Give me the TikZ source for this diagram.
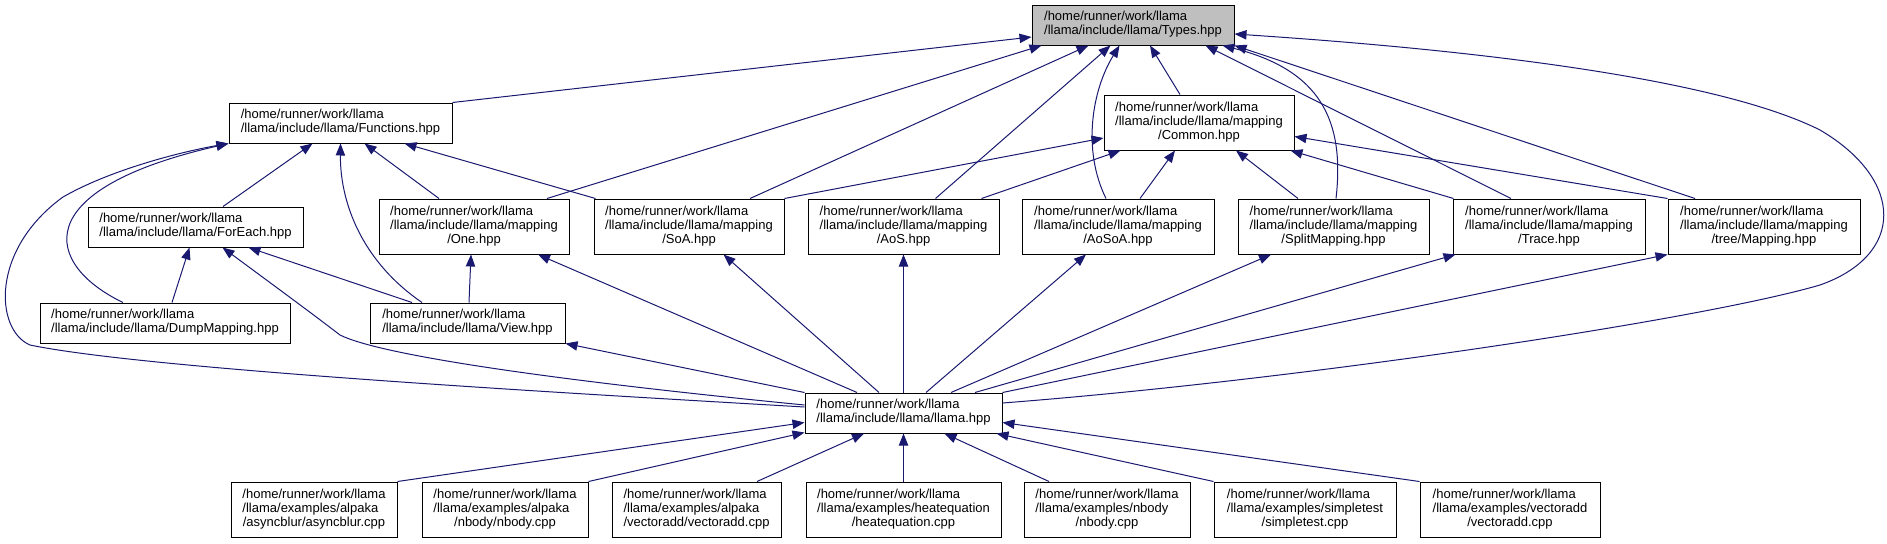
\documentclass[tikz,border=0pt]{standalone}
\usepackage{fontspec}
\setmainfont{Liberation Sans}
\usetikzlibrary{calc,arrows.meta}
\definecolor{edgeblue}{HTML}{191970}
\definecolor{typesgray}{HTML}{BFBFBF}
\newcommand{\twol}[2]{\begin{tabular}{@{}l@{}}#1\\#2\end{tabular}}
\newcommand{\threel}[3]{\begin{tabular}{@{}l@{}}#1\\#2\\\multicolumn{1}{@{}c@{}}{#3}\end{tabular}}
\begin{document}
\begin{tikzpicture}[x=0.75pt,y=-0.75pt,
  box/.style={draw=black, line width=0.75pt, fill=white, inner sep=0pt,
    minimum height=30pt, font={\fontsize{9.75}{10.5}\selectfont}},
  tall/.style={minimum height=41.25pt},
  wd/.style={minimum width=#1*0.75pt},
  edge/.style={draw=edgeblue, line width=0.75pt, -{Triangle[length=9pt,width=7pt]}}]
\useasboundingbox (0,0) rectangle (1887,543);

% nodes
\node[box, wd=202, fill=typesgray] (Types) at (1133,25) {\twol{/home/runner/work/llama}{/llama/include/llama/Types.hpp}};
\node[box, wd=223] (Functions) at (340.5,123) {\twol{/home/runner/work/llama}{/llama/include/llama/Functions.hpp}};
\node[box, tall, wd=190] (Common) at (1199,122.5) {\threel{/home/runner/work/llama}{/llama/include/llama/mapping}{/Common.hpp}};
\node[box, wd=215] (ForEach) at (195.5,227) {\twol{/home/runner/work/llama}{/llama/include/llama/ForEach.hpp}};
\node[box, tall, wd=190] (One) at (474,226.5) {\threel{/home/runner/work/llama}{/llama/include/llama/mapping}{/One.hpp}};
\node[box, tall, wd=190] (SoA) at (689,226.5) {\threel{/home/runner/work/llama}{/llama/include/llama/mapping}{/SoA.hpp}};
\node[box, tall, wd=191] (AoS) at (903.5,226.5) {\threel{/home/runner/work/llama}{/llama/include/llama/mapping}{/AoS.hpp}};
\node[box, tall, wd=192] (AoSoA) at (1118,226.5) {\threel{/home/runner/work/llama}{/llama/include/llama/mapping}{/AoSoA.hpp}};
\node[box, tall, wd=191] (Split) at (1333.5,226.5) {\threel{/home/runner/work/llama}{/llama/include/llama/mapping}{/SplitMapping.hpp}};
\node[box, tall, wd=192] (Trace) at (1549,226.5) {\threel{/home/runner/work/llama}{/llama/include/llama/mapping}{/Trace.hpp}};
\node[box, tall, wd=192] (Tree) at (1764,226.5) {\threel{/home/runner/work/llama}{/llama/include/llama/mapping}{/tree/Mapping.hpp}};
\node[box, wd=250] (Dump) at (165,323) {\twol{/home/runner/work/llama}{/llama/include/llama/DumpMapping.hpp}};
\node[box, wd=195] (View) at (467.5,323) {\twol{/home/runner/work/llama}{/llama/include/llama/View.hpp}};
\node[box, wd=197] (Llama) at (903.5,413) {\twol{/home/runner/work/llama}{/llama/include/llama/llama.hpp}};
\node[box, tall, wd=166] (Async) at (314,509.5) {\threel{/home/runner/work/llama}{/llama/examples/alpaka}{/asyncblur/asyncblur.cpp}};
\node[box, tall, wd=166] (NbodyA) at (505,509.5) {\threel{/home/runner/work/llama}{/llama/examples/alpaka}{/nbody/nbody.cpp}};
\node[box, tall, wd=169] (VecA) at (696.5,509.5) {\threel{/home/runner/work/llama}{/llama/examples/alpaka}{/vectoradd/vectoradd.cpp}};
\node[box, tall, wd=195] (Heat) at (903.5,509.5) {\threel{/home/runner/work/llama}{/llama/examples/heatequation}{/heatequation.cpp}};
\node[box, tall, wd=166] (Nbody) at (1107,509.5) {\threel{/home/runner/work/llama}{/llama/examples/nbody}{/nbody.cpp}};
\node[box, tall, wd=182] (Simple) at (1305,509.5) {\threel{/home/runner/work/llama}{/llama/examples/simpletest}{/simpletest.cpp}};
\node[box, tall, wd=180] (Vec) at (1510,509.5) {\threel{/home/runner/work/llama}{/llama/examples/vectoradd}{/vectoradd.cpp}};

% edges to Types
\draw[edge] (Functions.north east) -- ($(Types.west)+(0,12)$);
\draw[edge] ($(One.north)+(73,0)$) -- ($(Types.south west)+(10,0)$);
\draw[edge] ($(SoA.north)+(61,0)$) -- ($(Types.south west)+(57,0)$);
\draw[edge] ($(AoS.north)+(32,0)$) -- ($(Types.south west)+(79,0)$);
\draw[edge] ($(AoSoA.north)+(-12,0)$) .. controls (1082,150) and (1092,90) .. ($(Types.south west)+(88,0)$);
\draw[edge] ($(Common.north)+(-19,0)$) -- ($(Types.south)+(17,0)$);
\draw[edge] ($(Split.north)+(2.5,0)$) .. controls (1345,120) and (1320,70) .. ($(Types.south east)+(-12,0)$);
\draw[edge] ($(Trace.north)+(-38,0)$) -- ($(Types.south east)+(-29,0)$);
\draw[edge] ($(Tree.north)+(-69,0)$) -- (Types.south east);
\draw[edge] ($(Llama.east)+(0,-10)$) .. controls (1300,380) and (1700,320) .. (1820,285)
  .. controls (1905,255) and (1905,180) .. (1820,130)
  .. controls (1700,70) and (1400,45) .. ($(Types.east)+(0,9)$);

% edges to Functions
\draw[edge] ($(ForEach.north)+(27.5,0)$) -- ($(Functions.south)+(-28,0)$);
\draw[edge] ($(Dump.north)+(-42,0)$) .. controls (45,265) and (25,190) .. (Functions.south west);
\draw[edge] ($(View.north)+(-45.5,0)$) .. controls (360,260) and (340,200) .. (Functions.south);
\draw[edge] ($(One.north)+(-35,0)$) -- ($(Functions.south)+(24,0)$);
\draw[edge] ($(SoA.north west)+(2,0)$) -- ($(Functions.south)+(64,0)$);
\draw[edge] ($(Llama.west)+(0,-6)$) .. controls (600,395) and (150,370) .. (30,345)
  .. controls (-5,330) and (-10,250) .. (63,197)
  .. controls (110,170) and (180,152) .. (Functions.south west);

% edges to Common
\draw[edge] (SoA.north east) -- ($(Common.west)+(0,15.5)$);
\draw[edge] ($(AoS.north east)+(-18,0)$) -- ($(Common.south west)+(17,0)$);
\draw[edge] ($(AoSoA.north)+(22,0)$) -- ($(Common.south)+(-24,0)$);
\draw[edge] ($(Split.north)+(-35.5,0)$) -- ($(Common.south)+(37,0)$);
\draw[edge] ($(Trace.north west)+(1,0)$) -- ($(Common.south east)+(-4,0)$);
\draw[edge] (Tree.north west) -- ($(Common.east)+(0,14)$);

% edges to ForEach
\draw[edge] ($(Dump.north)+(7,0)$) -- ($(ForEach.south)+(-6,0)$);
\draw[edge] ($(View.north)+(-55.5,0)$) -- ($(ForEach.south)+(53,0)$);
\draw[edge] ($(Llama.west)+(0,-8)$) .. controls (550,380) and (380,355) .. (340,335)
  .. controls (310,312) and (280,290) .. ($(ForEach.south)+(27,0)$);

% other edges
\draw[edge] ($(View.north)+(1.5,0)$) -- ($(One.south)+(-3,0)$);
\draw[edge] (Llama.north west) -- (View.south east);
\draw[edge] ($(Llama.north)+(-46.5,0)$) -- ($(One.south)+(64,0)$);
\draw[edge] ($(Llama.north)+(-24.5,0)$) -- ($(SoA.south)+(34.5,0)$);
\draw[edge] (Llama.north) -- (AoS.south);
\draw[edge] ($(Llama.north)+(22.5,0)$) -- ($(AoSoA.south)+(-32,0)$);
\draw[edge] ($(Llama.north)+(47.5,0)$) -- ($(Split.south)+(-62.5,0)$);
\draw[edge] ($(Llama.north)+(71.5,0)$) -- ($(Trace.south west)+(3,0)$);
\draw[edge] (Llama.north east) -- (Tree.south west);

% examples to llama.hpp
\draw[edge] (Async.north east) -- ($(Llama.west)+(0,9.5)$);
\draw[edge] (NbodyA.north east) -- ($(Llama.south west)+(0,-1)$);
\draw[edge] ($(VecA.north)+(60.5,0)$) -- ($(Llama.south)+(-39.5,0)$);
\draw[edge] (Heat.north) -- (Llama.south);
\draw[edge] ($(Nbody.north)+(-58,0)$) -- ($(Llama.south)+(41,0)$);
\draw[edge] (Simple.north west) -- ($(Llama.south east)+(-6,0)$);
\draw[edge] (Vec.north west) -- ($(Llama.east)+(0,9.5)$);
\end{tikzpicture}
\end{document}
